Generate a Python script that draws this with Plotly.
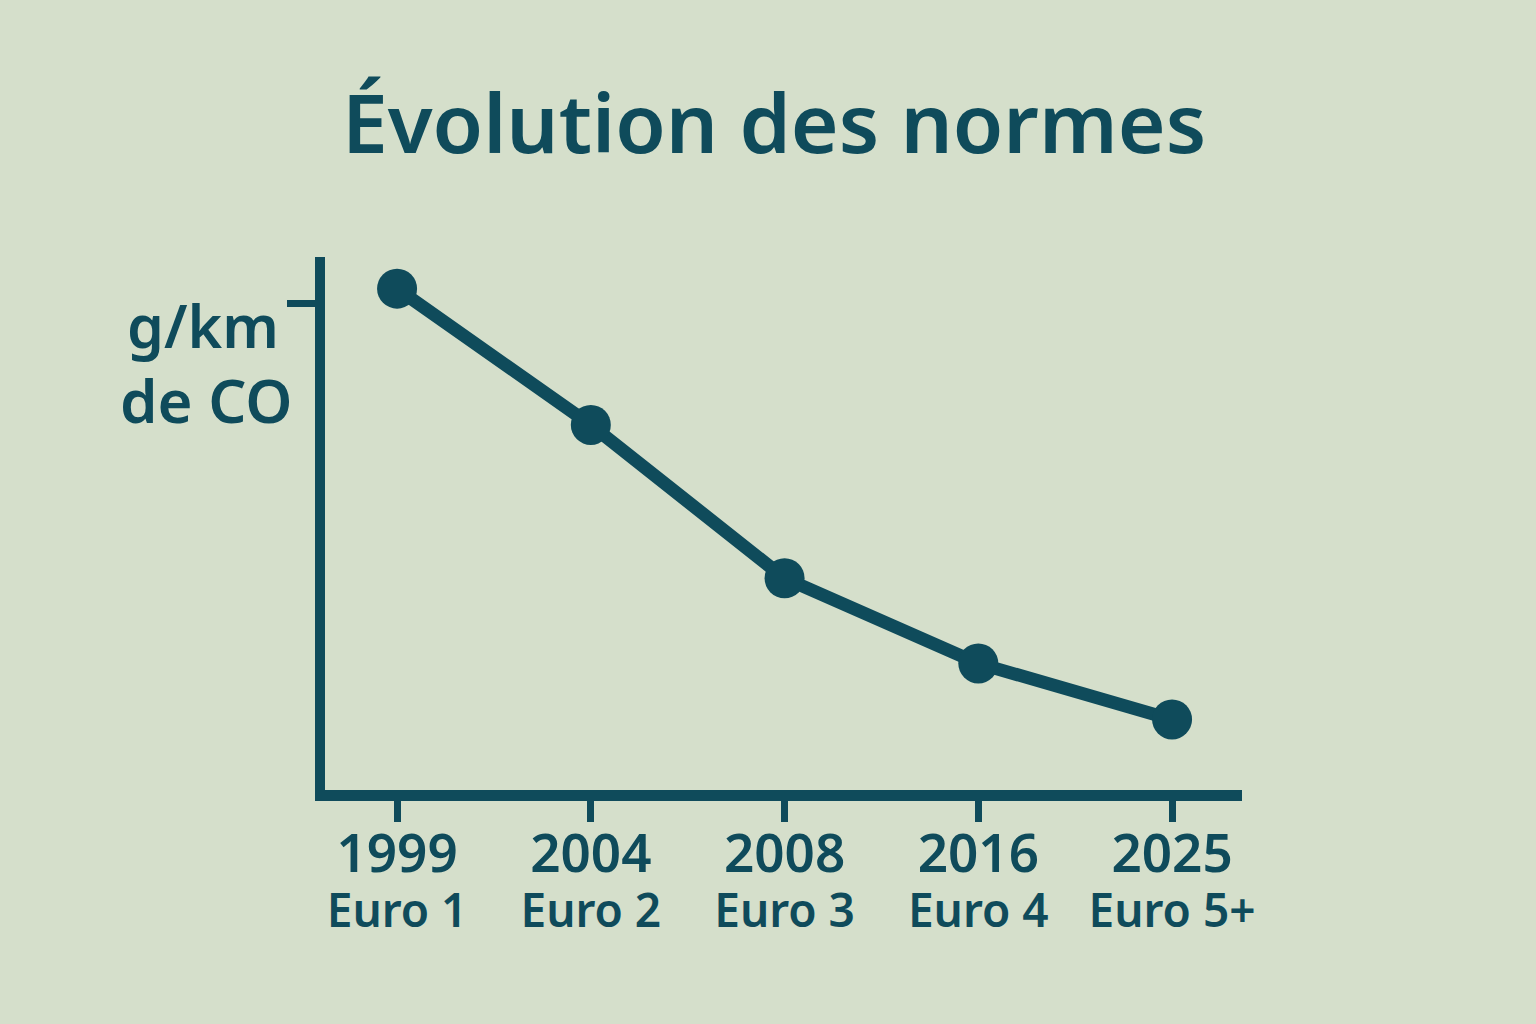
import plotly.graph_objects as go

years = ["1999", "2004", "2008", "2016", "2025"]
norms = ["Euro 1", "Euro 2", "Euro 3", "Euro 4", "Euro 5+"]
co_values = [103, 75, 43.5, 26, 14.5]

INK = "#0f4b5b"
BG = "#d5dfcb"
FONT = "Noto Sans"

W, H = 1536, 1024
L, R, T, B = 325, 1536 - 1242, 257, 1024 - 790

xs = list(range(len(years)))
ticklabels = [
    f'<span style="font-size:53px">{y}</span><br><span style="font-size:46px">{n}</span>'
    for y, n in zip(years, norms)
]

fig = go.Figure()
fig.add_trace(go.Scatter(
    x=xs, y=co_values, mode="lines+markers",
    line=dict(color=INK, width=13),
    marker=dict(color=INK, size=40),
    hoverinfo="skip", showlegend=False,
))

annotations = [
    dict(
        x=0, xref="paper", xshift=-(L - 203), y=0, yref="paper",
        yshift=(790 - 325), text="g/km", showarrow=False,
        xanchor="center", yanchor="middle",
        font=dict(family=FONT, size=59, color=INK, weight=600),
    ),
    dict(
        x=0, xref="paper", xshift=-(L - 206), y=0, yref="paper",
        yshift=(790 - 400), text="de CO", showarrow=False,
        xanchor="center", yanchor="middle",
        font=dict(family=FONT, size=60, color=INK, weight=600),
    ),
]

fig.update_layout(
    width=W, height=H,
    margin=dict(l=L, r=R, t=T, b=B, pad=0),
    paper_bgcolor=BG, plot_bgcolor=BG,
    title=dict(
        text="Évolution des normes",
        x=774 / W, xanchor="center", xref="container",
        y=1 - 124 / H, yanchor="middle", yref="container",
        font=dict(family=FONT, size=82, color=INK, weight=600),
    ),
    annotations=annotations,
    xaxis=dict(
        range=[-0.372, 4.361],
        tickvals=xs, ticktext=ticklabels,
        showline=True, linecolor=INK, linewidth=11,
        ticks="outside", ticklen=21, tickwidth=7, tickcolor=INK,
        showgrid=False, zeroline=False,
        tickfont=dict(family=FONT, size=42, color=INK, weight=600),
        fixedrange=True,
    ),
    yaxis=dict(
        range=[0, 109.5],
        tickvals=[100], ticktext=[""],
        showline=True, linecolor=INK, linewidth=10,
        ticks="outside", ticklen=28, tickwidth=7, tickcolor=INK,
        showgrid=False, zeroline=False,
        fixedrange=True,
    ),
)

fig.write_html(
    "out.html",
    config={"displayModeBar": False},
    post_script="document.body.style.margin='0';document.body.style.background='" + BG + "';",
)
